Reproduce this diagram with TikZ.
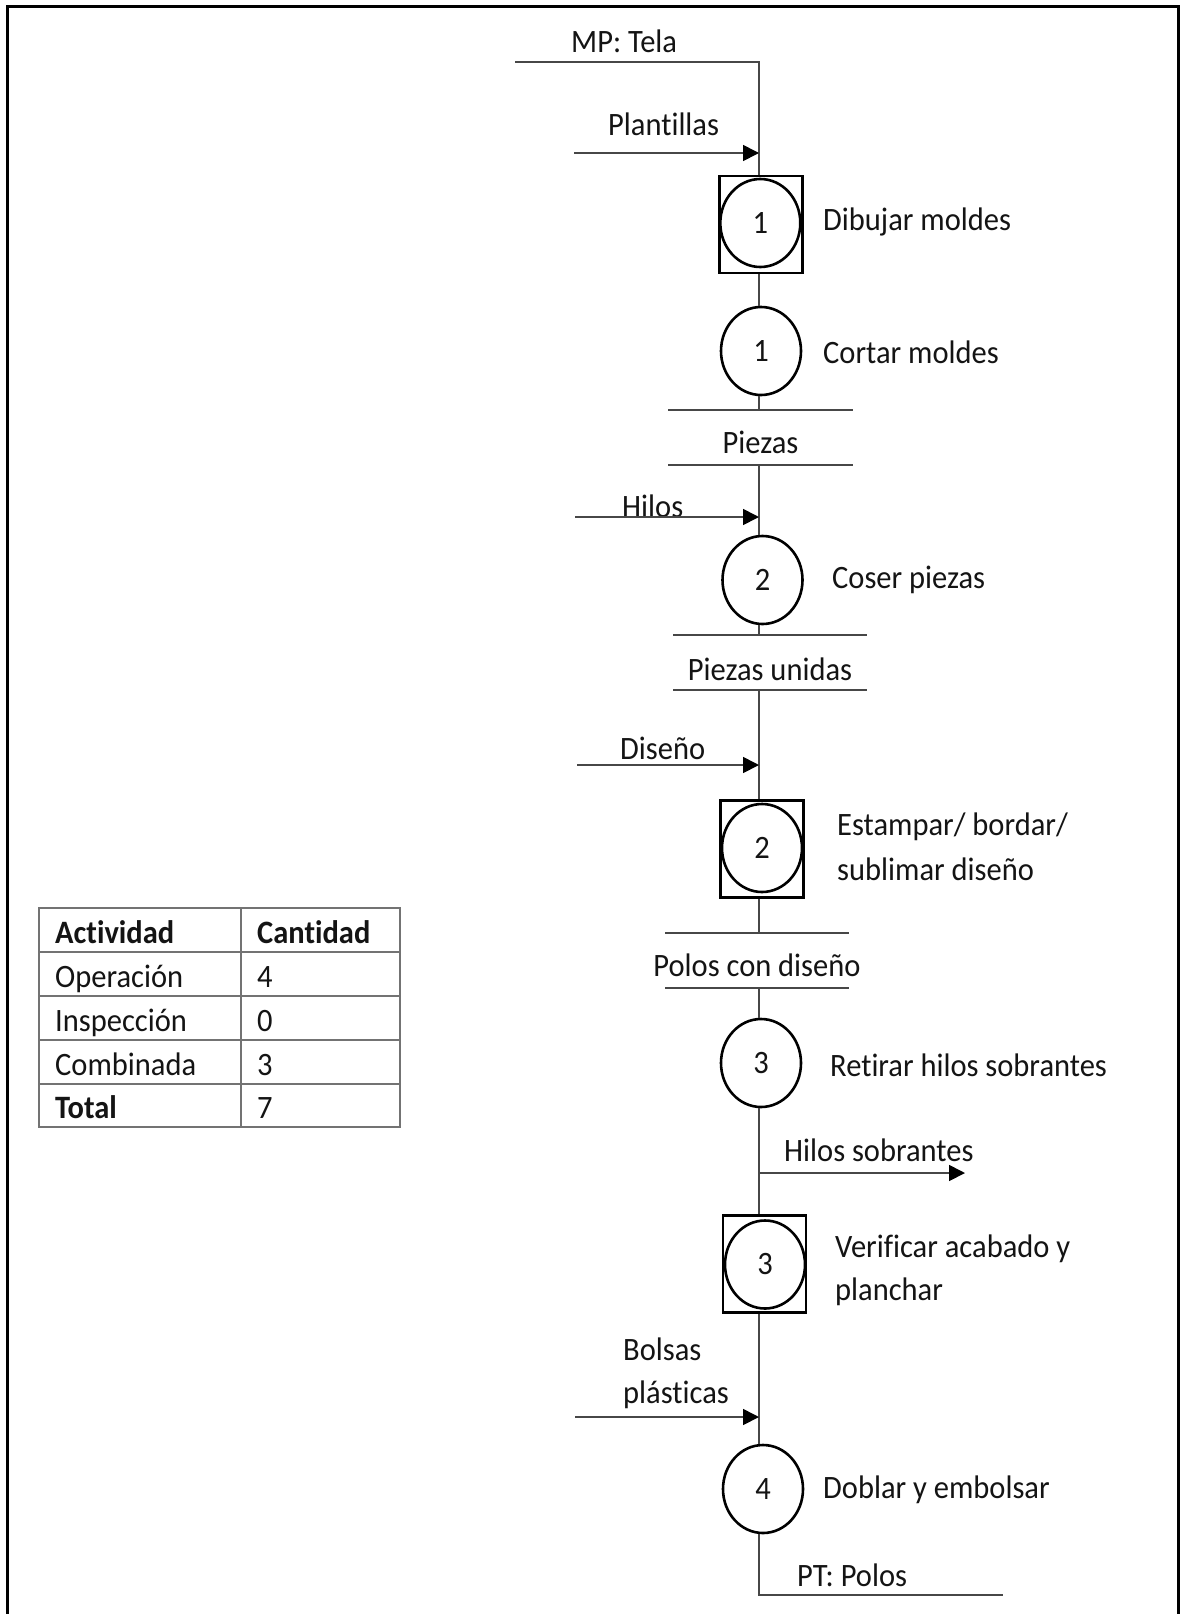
\documentclass[tikz,border=0pt]{standalone}
\usepackage{fontspec}
\setmainfont{Carlito}[RawFeature={-liga;-clig;-calt;-dlig}]
\usetikzlibrary{arrows.meta,shapes.geometric}
% text is set slightly taller than wide
\newcommand\tall[1]{\scalebox{1}[1.07]{#1}}
\begin{document}
\begin{tikzpicture}[x=1pt,y=-1pt,
  every node/.style={font=\fontsize{30.5}{44}\selectfont, text=black!92, inner sep=0pt},
  flow/.style={draw=black!72, line width=1.7pt},
  feed/.style={flow, -{Triangle[length=16pt,width=16pt,color=black]}},
  opn/.style={ellipse, draw=black, line width=2.6pt, minimum width=80pt, minimum height=88pt},
  insp/.style={rectangle, draw=black, line width=2.8pt, minimum width=83pt, minimum height=97pt},
  txt/.style={anchor=base west},
  grid/.style={draw=black!55, line width=1.5pt},
]
\useasboundingbox (0,0) rectangle (1182,1614);
\clip (0,0) rectangle (1182,1614);
\fill[white] (0,0) rectangle (1182,1614);

% outer frame (open at the bottom)
\draw[line width=3pt] (7,1640) -- (7,6) -- (1178.5,6) -- (1178.5,1640);

% main axis reference
\coordinate (ax) at (759,0);

% raw material
\coordinate (mpS) at (515,62);
\coordinate (mpC) at (759,62);
\node[txt] (mpL) at (571,52) {\tall{MP: Tela}};

% templates input
\coordinate (plS) at (574,153);
\node[txt] (plL) at (608,135) {\tall{Plantillas}};

% combined activity 1
\node[insp] (sq1) at (760.8,224.5) {};
\node[opn] (op1) at (760.3,223) {\tall{1}};
\node[txt] (d1) at (823,230) {\tall{Dibujar moldes}};

% operation 1
\node[opn] (op2) at (761,351) {\tall{1}};
\node[txt] (d2) at (823,363) {\tall{Cortar moldes}};

% product: Piezas
\coordinate (pzT) at (759,410);
\coordinate (pzB) at (759,465);
\node[anchor=base] (pz) at (760.5,453) {\tall{Piezas}};

% threads input
\coordinate (hiS) at (575,517);
\node[txt] (hiL) at (622,517) {\tall{Hilos}};

% operation 2
\node[opn] (op3) at (762.5,580) {\tall{2}};
\node[txt] (d3) at (832,588) {\tall{Coser piezas}};

% product: Piezas unidas
\coordinate (puT) at (759,635);
\coordinate (puB) at (759,690);
\node[anchor=base] (pu) at (770,680) {\tall{Piezas unidas}};

% design input
\coordinate (diS) at (577,765);
\node[txt] (diL) at (620,759) {\tall{Diseño}};

% combined activity 2
\node[insp] (sq2) at (762,849) {};
\node[opn] (op4) at (762,848) {\tall{2}};
\node[txt] (d4a) at (837,835) {\tall{Estampar/ bordar/}};
\node[txt] (d4b) at (837,880) {\tall{sublimar diseño}};

% product: Polos con diseño
\coordinate (pcT) at (759,933);
\coordinate (pcB) at (759,988);
\node[anchor=base] (pc) at (757,976) {\tall{Polos con diseño}};

% operation 3
\node[opn] (op5) at (761,1063) {\tall{3}};
\node[txt] (d5) at (830,1076) {\tall{Retirar hilos sobrantes}};

% leftover threads output
\coordinate (hsS) at (759,1173);
\coordinate (hsE) at (965,1173);
\node[txt] (hsL) at (784,1161) {\tall{Hilos sobrantes}};

% combined activity 3
\node[insp] (sq3) at (764.5,1264) {};
\node[opn] (op6) at (765,1264.5) {\tall{3}};
\node[txt] (d6a) at (835,1257) {\tall{Verificar acabado y}};
\node[txt] (d6b) at (835,1300) {\tall{planchar}};

% plastic bags input
\coordinate (boS) at (575,1417);
\node[txt] (boA) at (623,1360) {\tall{Bolsas}};
\node[txt] (boB) at (623,1403) {\tall{plásticas}};

% operation 4
\node[opn] (op7) at (763,1489) {\tall{4}};
\node[txt] (d7) at (823,1498) {\tall{Doblar y embolsar}};

% finished product
\coordinate (ptC) at (759,1595);
\coordinate (ptE) at (1003,1595);
\node[txt] (ptL) at (797,1586) {\tall{PT: Polos}};

% main flow
\draw[flow] (mpS) -- (mpC) -- (sq1.north -| ax);
\draw[flow] (sq1.south -| ax) -- (op2.north -| ax);
\draw[flow] (op2.south -| ax) -- (pzT);
\draw[flow] (pzB) -- (op3.north -| ax);
\draw[flow] (op3.south -| ax) -- (puT);
\draw[flow] (puB) -- (sq2.north -| ax);
\draw[flow] (sq2.south -| ax) -- (pcT);
\draw[flow] (pcB) -- (op5.north -| ax);
\draw[flow] (op5.south -| ax) -- (sq3.north -| ax);
\draw[flow] (sq3.south -| ax) -- (op7.north -| ax);
\draw[flow] (op7.south -| ax) -- (ptC) -- (ptE);

% storage bars
\draw[flow] (pzT -| 668,0) -- (pzT -| 853,0);
\draw[flow] (pzB -| 668,0) -- (pzB -| 853,0);
\draw[flow] (puT -| 673,0) -- (puT -| 867,0);
\draw[flow] (puB -| 673,0) -- (puB -| 867,0);
\draw[flow] (pcT -| 665,0) -- (pcT -| 849,0);
\draw[flow] (pcB -| 665,0) -- (pcB -| 849,0);

% inputs and output
\draw[feed] (plS) -- (plS -| ax);
\draw[feed] (hiS) -- (hiS -| ax);
\draw[feed] (diS) -- (diS -| ax);
\draw[feed] (boS) -- (boS -| ax);
\draw[feed] (hsS) -- (hsE);

% summary table
\draw[grid] (39,908) rectangle (400,1127);
\draw[grid] (241,908) -- (241,1127);
\foreach \yy in {952,996,1040,1084} \draw[grid] (39,\yy) -- (400,\yy);
\node[txt] (t11) at (55,943.5) {\tall{\textbf{Actividad}}};
\node[txt] (t12) at (257,943.5) {\tall{\textbf{Cantidad}}};
\node[txt] (t21) at (55,987.5) {\tall{Operación}};
\node[txt] (t22) at (257,987.5) {\tall{4}};
\node[txt] (t31) at (55,1031.5) {\tall{Inspección}};
\node[txt] (t32) at (257,1031.5) {\tall{0}};
\node[txt] (t41) at (55,1075.5) {\tall{Combinada}};
\node[txt] (t42) at (257,1075.5) {\tall{3}};
\node[txt] (t51) at (55,1118.5) {\tall{\textbf{Total}}};
\node[txt] (t52) at (257,1118.5) {\tall{7}};
\end{tikzpicture}
\end{document}
